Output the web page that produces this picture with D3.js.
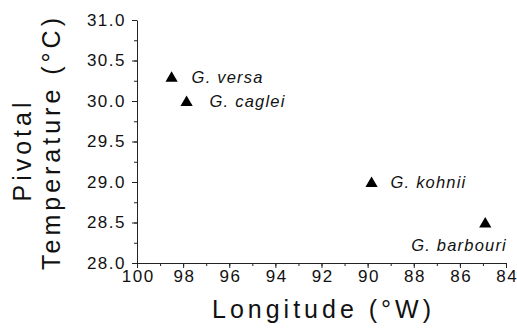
<!DOCTYPE html>
<html>
<head>
<meta charset="utf-8">
<script src="https://cdn.jsdelivr.net/npm/d3@7"></script>
<style>
  body { margin: 0; background: #fff; }
  svg text { font-family: "Liberation Sans", Arial, sans-serif; fill: #111; }
</style>
</head>
<body>
<div id="chart"></div>
<script>
// chart data
var species = ["G. versa", "G. caglei", "G. kohnii", "G. barbouri"];
var longitude = [98.5, 97.85, 89.83, 84.9];
var pivotalTemp = [30.3, 30.0, 29.0, 28.5];
var xTicks = [100, 98, 96, 94, 92, 90, 88, 86, 84];
var yTicks = [28.0, 28.5, 29.0, 29.5, 30.0, 30.5, 31.0];

var w = 517;
var h = 334;
var plotLeft = 137, plotRight = 506, plotTop = 20, plotBottom = 263;

var svg = d3.select("#chart")
  .append("svg")
  .attr("width", w)
  .attr("height", h);

var xScale = d3.scaleLinear().domain([100, 84]).range([plotLeft, plotRight]);
var yScale = d3.scaleLinear().domain([28, 31]).range([plotBottom, plotTop]);

// minor ticks
svg.append("g")
  .attr("transform", "translate(0," + plotBottom + ")")
  .call(d3.axisBottom(xScale).tickValues(d3.range(100, 83, -1)).tickSize(3).tickFormat(""))
  .call(function(g) { g.select(".domain").remove(); });
svg.append("g")
  .attr("transform", "translate(" + plotLeft + ",0)")
  .call(d3.axisLeft(yScale).tickValues(d3.range(28, 31.01, 0.25)).tickSize(3).tickFormat(""))
  .call(function(g) { g.select(".domain").remove(); });

// x axis
var xAxis = svg.append("g")
  .attr("transform", "translate(0," + plotBottom + ")")
  .call(d3.axisBottom(xScale).tickValues(xTicks).tickSize(5).tickSizeOuter(0).tickPadding(2)
    .tickFormat(d3.format("d")));
xAxis.selectAll("text")
  .style("font-size", "17px")
  .style("letter-spacing", "1.5px")
  .attr("dx", "0.75px");

// y axis
var yAxis = svg.append("g")
  .attr("transform", "translate(" + plotLeft + ",0)")
  .call(d3.axisLeft(yScale).tickValues(yTicks).tickSize(5).tickSizeOuter(0).tickPadding(6)
    .tickFormat(d3.format(".1f")));
yAxis.selectAll("text")
  .style("font-size", "17px")
  .style("letter-spacing", "1.5px");

svg.selectAll(".domain, .tick line").attr("stroke", "#222");

// triangles
var tri = d3.symbol().type(d3.symbolTriangle).size(65);
svg.selectAll("path.pt")
  .data(species)
  .enter()
  .append("path")
  .attr("class", "pt")
  .attr("d", tri)
  .attr("transform", function(d, i) {
    return "translate(" + xScale(longitude[i]) + "," + (yScale(pivotalTemp[i]) + 1.5) + ")";
  })
  .attr("fill", "#000");

// species labels
var labelDx = [20, 23, 19, -74];
var labelDy = [6, 6, 6, 28];
svg.selectAll("text.lab")
  .data(species)
  .enter()
  .append("text")
  .attr("class", "lab")
  .attr("x", function(d, i) { return xScale(longitude[i]) + labelDx[i]; })
  .attr("y", function(d, i) { return yScale(pivotalTemp[i]) + labelDy[i]; })
  .style("font-size", "16.5px")
  .style("font-style", "italic")
  .style("letter-spacing", "1.2px")
  .text(function(d) { return d; });

// axis titles
svg.append("text")
  .attr("x", (plotLeft + plotRight) / 2 + 2)
  .attr("y", 318)
  .attr("text-anchor", "middle")
  .style("font-size", "25px")
  .style("letter-spacing", "4px")
  .text("Longitude  (\u00b0W)");

svg.append("text")
  .attr("transform", "translate(31,150) rotate(-90)")
  .attr("text-anchor", "middle")
  .style("font-size", "25px")
  .style("letter-spacing", "4px")
  .text("Pivotal");

svg.append("text")
  .attr("transform", "translate(60,142) rotate(-90)")
  .attr("text-anchor", "middle")
  .style("font-size", "25px")
  .style("letter-spacing", "4px")
  .text("Temperature (\u00b0C)");
</script>
</body>
</html>
